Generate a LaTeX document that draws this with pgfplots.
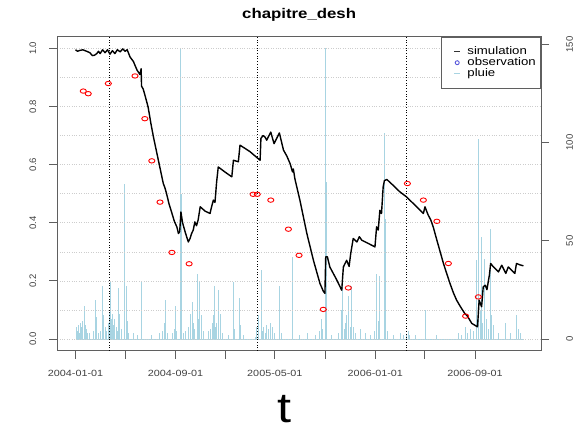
\documentclass[border=0pt]{standalone}
\usepackage{pgfplots}
\pgfplotsset{compat=1.18}
\usepackage{fontspec}
\setmainfont{Liberation Sans}[FakeStretch=1.2]
\newfontfamily\plainsans{Liberation Sans}
\definecolor{rain}{RGB}{168,212,226}
\definecolor{frame}{RGB}{95,95,95}
\definecolor{obsblue}{RGB}{90,90,220}
\definecolor{gridc}{RGB}{205,205,205}

\pgfplotstableread{
day r
2 6
4 4
6 7
8 5
10 3
13 8
15 6
18 9
21 17
23 7
26 5
29 3
35 3
44 4
48 20
52 11
56 3
60 4
65 27
69 12
72 6
76 4
80 8
83 14
85 29
87 10
89 13
92 7
95 10
99 6
101 4
104 26
108 13
112 5
118 79
120 39
123 27
126 9
130 3
142 3
150 2
160 29
186 2
205 3
213 4
216 8
219 20
224 3
235 3
240 5
243 17
247 4
255 148
257 74
262 3
269 4
276 6
280 13
284 19
288 8
291 5
296 33
299 10
303 29
306 12
312 4
325 4
330 5
333 8
336 12
339 27
342 6
344 8
348 25
352 13
358 3
372 2
385 29
388 5
399 21
401 7
410 2
438 1
441 6
445 3
447 12
452 35
455 4
458 6
462 3
466 7
470 5
474 8
481 6
485 3
497 27
503 3
529 42
547 2
566 3
584 2
595 4
600 10
603 5
609 148
612 80
625 2
640 3
649 15
651 27
655 5
657 8
661 12
665 22
669 6
673 27
677 6
683 3
694 5
706 3
720 2
728 4
734 33
738 9
742 32
753 105
755 61
760 4
775 2
791 3
800 2
807 2
811 4
815 2
828 2
854 15
880 2
933 3
940 2
950 6
955 3
962 5
970 4
978 40
982 102
986 15
989 52
993 8
997 41
1002 10
1006 5
1011 56
1015 12
1019 7
1030 3
1047 8
1060 3
1076 12
1079 5
1084 3
}\raintable

\pgfplotstableread{
day v
0 0.995
5 0.99
11 0.993
18 0.995
27 0.99
35 0.985
41 0.975
46 0.976
52 0.982
56 0.99
60 0.982
66 0.995
72 0.985
78 0.995
84 0.98
90 0.992
96 0.982
102 0.995
109 0.988
115 0.998
121 0.99
126 0.995
133 0.97
141 0.955
150 0.925
157 0.91
160 0.93
161 0.87
165 0.86
170 0.835
177 0.798
184 0.74
190 0.695
196 0.655
202 0.615
208 0.575
214 0.535
218 0.52
222 0.50
228 0.465
235 0.433
241 0.405
247 0.386
251 0.363
254 0.37
257 0.437
261 0.40
268 0.365
275 0.334
279 0.345
283 0.363
287 0.375
291 0.403
293 0.395
295 0.39
299 0.41
304 0.455
316 0.44
328 0.432
330 0.445
336 0.478
340 0.47
344 0.54
348 0.592
364 0.575
381 0.558
385 0.615
397 0.61
401 0.667
425 0.645
450 0.615
452 0.69
457 0.70
462 0.695
466 0.684
476 0.712
484 0.672
497 0.709
507 0.65
515 0.63
523 0.604
526 0.59
529 0.575
531 0.585
535 0.55
547 0.478
564 0.363
580 0.271
596 0.191
604 0.165
608 0.157
610 0.283
614 0.283
620 0.248
637 0.203
649 0.168
653 0.248
661 0.271
667 0.25
671 0.295
677 0.346
686 0.334
692 0.352
698 0.34
715 0.328
730 0.317
734 0.386
738 0.375
742 0.443
746 0.432
750 0.523
753 0.545
759 0.549
775 0.528
791 0.506
807 0.489
828 0.46
848 0.432
852 0.455
856 0.44
860 0.426
866 0.41
872 0.386
881 0.34
889 0.30
897 0.26
905 0.225
913 0.191
921 0.16
929 0.134
939 0.11
949 0.088
955 0.08
966 0.054
973 0.048
980 0.042
984 0.134
990 0.111
994 0.18
999 0.185
1003 0.17
1009 0.22
1012 0.26
1019 0.248
1031 0.231
1039 0.254
1049 0.226
1055 0.248
1071 0.226
1075 0.26
1084 0.255
1092 0.252
}\simtable

\pgfplotstableread{
day v
19 0.853
31 0.844
80 0.879
145 0.905
169 0.758
186 0.613
206 0.471
235 0.298
277 0.259
433 0.498
443 0.498
476 0.478
519 0.378
545 0.288
604 0.102
665 0.176
809 0.535
848 0.478
881 0.405
909 0.26
951 0.079
982 0.145
}\obstable

\begin{document}
\begin{tikzpicture}
\path[use as bounding box] (-57.3pt,-81.3pt) rectangle (521.7pt,350.7pt);
% rain on the right axis
\begin{axis}[
  scale only axis,
  width=483.7pt, height=314pt,
  xmin=-44.4, xmax=1134.8, ymin=-5.92, ymax=153.9,
  axis x line=none, axis y line*=right,
  axis line style={-, draw=frame, line width=0.9pt},
  ytick={0,50,100,150}, yticklabels={0,50,100,150},
  tick align=outside, major tick length=8pt,
  tick style={frame, line width=0.9pt},
  yticklabel style={font=\plainsans\fontsize{9.5}{10}\selectfont, color=black!75, rotate=90, anchor=north, inner sep=0pt},
  yticklabel shift=17pt,
]
\addplot[rain, line width=0.8pt, forget plot] coordinates {(0,0) (1092,0)};
\addplot[rain, line width=0.8pt, ycomb, forget plot] table[x=day, y=r] {\raintable};
\end{axis}
% main axis
\begin{axis}[
  scale only axis,
  width=483.7pt, height=314pt,
  xmin=-44.4, xmax=1134.8, ymin=-0.04, ymax=1.04,
  axis line style={draw=frame, line width=0.9pt},
  xtick={0,121,244,366,486,609,731,851,974},
  xticklabels={2004-01-01,,2004-09-01,,2005-05-01,,2006-01-01,,2006-09-01},
  ytick={0,0.2,0.4,0.6,0.8,1.0},
  yticklabels={0.0,0.2,0.4,0.6,0.8,1.0},
  minor ytick={0.1,0.3,0.5,0.7,0.9},
  minor tick length=0pt,
  ymajorgrids, yminorgrids,
  major grid style={gridc, dotted, line width=0.7pt},
  minor grid style={gridc, dotted, line width=0.7pt},
  xtick pos=lower, ytick pos=left,
  tick align=outside, major tick length=8pt,
  tick style={frame, line width=0.9pt},
  xticklabel style={font=\fontsize{9}{10}\selectfont, color=black!75, anchor=north, inner sep=0pt},
  xticklabel shift=11pt,
  yticklabel style={font=\plainsans\fontsize{9.5}{10}\selectfont, color=black!75, rotate=90, anchor=south, inner sep=0pt},
  yticklabel shift=13pt,
  title={chapitre\_desh},
  title style={font=\bfseries\fontsize{14}{14}\selectfont, anchor=base, at={(0.5,1)}, yshift=12pt, inner sep=0pt},
  xlabel={t},
  xlabel style={font=\fontsize{42}{42}\selectfont, anchor=base, at={(0.5,0)}, yshift=-72pt, xshift=-15pt, inner sep=0pt},
  legend style={at={(1,1)}, anchor=north east, draw=frame, line width=0.6pt, fill=white,
    font=\fontsize{11}{11}\selectfont, row sep=-2.5pt, inner xsep=3pt, inner ysep=8pt,
    nodes={inner xsep=2pt},
    column 1/.style={nodes={inner ysep=0pt}},
    column 2/.style={nodes={text height=9.5pt, text depth=0pt, inner ysep=1pt}}},
  legend cell align=left,
]
\addplot[black, dotted, line width=0.7pt, forget plot] coordinates {(82,-0.04) (82,1.04)};
\addplot[black, dotted, line width=0.7pt, forget plot] coordinates {(444,-0.04) (444,1.04)};
\addplot[black, dotted, line width=0.7pt, forget plot] coordinates {(807,-0.04) (807,1.04)};
\addplot[black, line width=1.4pt, line join=round, forget plot] table[x=day, y=v] {\simtable};
\addplot[only marks, red, mark=o, mark size=2.2pt, mark options={xscale=1.4, line width=0.9pt}, forget plot] table[x=day, y=v] {\obstable};
\addlegendimage{legend image code/.code={\path[draw=none] (-0.35cm,0cm) -- (0.4cm,0cm); \draw[black!80, line width=1pt] (0cm,0cm) -- (0.22cm,0cm);}}
\addlegendentry{simulation}
\addlegendimage{legend image code/.code={\path[draw=none] (-0.35cm,0cm) -- (0.4cm,0cm); \draw[obsblue, line width=0.9pt] (0.11cm,0cm) circle[radius=2pt];}}
\addlegendentry{observation}
\addlegendimage{legend image code/.code={\path[draw=none] (-0.35cm,0cm) -- (0.4cm,0cm); \draw[rain, line width=1pt] (0cm,0cm) -- (0.22cm,0cm);}}
\addlegendentry{pluie}
\end{axis}
\end{tikzpicture}
\end{document}
